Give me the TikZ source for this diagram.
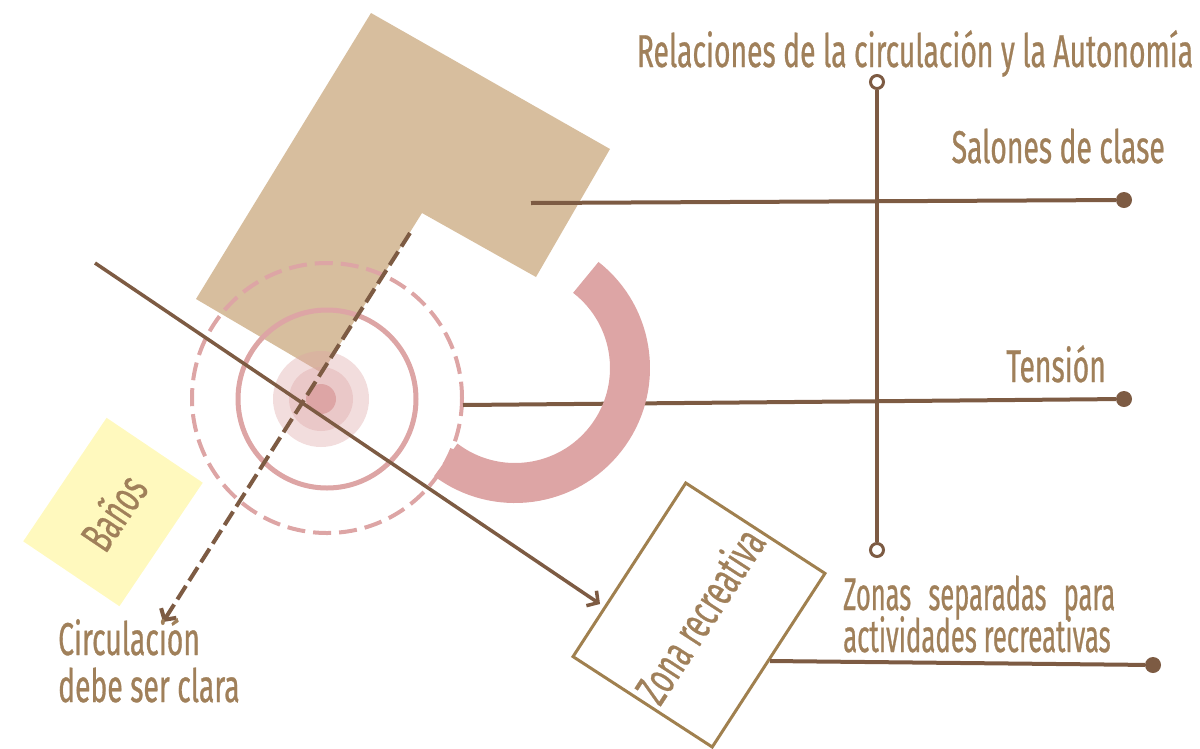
\documentclass[tikz,border=0pt]{standalone}
\usepackage{fontspec}
\usepackage{graphicx}
\setmainfont{Fira Sans}[FakeStretch=0.615,FakeBold=0.6]
\usetikzlibrary{arrows.meta}
\definecolor{tanfill}{HTML}{D7BE9E}
\definecolor{pinkc}{HTML}{DDA5A5}
\definecolor{linec}{HTML}{7D5B43}
\definecolor{textc}{HTML}{A0805A}
\definecolor{boxc}{HTML}{A0804F}
\definecolor{yellowc}{HTML}{FFF9BE}
\newcommand{\narrowword}[1]{\scalebox{0.9}[1]{#1}}
\begin{document}
\begin{tikzpicture}[x=1pt,y=-1pt,
  lbl/.style={text=textc, font=\fontsize{46}{50}\selectfont, inner sep=0pt},
  conn/.style={draw=linec, line width=4pt},
  dashconn/.style={draw=linec, line width=4pt, dash pattern=on 16pt off 6pt},
  enddot/.style={circle, fill=linec, minimum size=16pt, inner sep=0pt},
  opendot/.style={circle, draw=linec, fill=white, line width=3pt, minimum size=13pt, inner sep=0pt},
  barb/.style={-{Straight Barb[length=8pt,width=18pt]}},
  blob/.style={fill=pinkc, opacity=0.38}
]
\useasboundingbox (0,0) rectangle (1200,748);

% tan L-shaped building
\fill[tanfill] (371,13) -- (610,149) -- (536,277) -- (422,213) -- (322,373) -- (196,299) -- cycle;

% yellow box
\node[lbl, fill=yellowc, rotate=56, minimum width=149pt, minimum height=116pt] (banos) at (113,512) {Baños};

% focal blobs
\fill[blob] (321,399) circle[radius=48];
\fill[blob] (321,399) circle[radius=32];
\fill[pinkc] (321,399) circle[radius=15];

% rings
\draw[pinkc, line width=5pt] (327,399) circle[radius=89];
\draw[pinkc, line width=4pt, dash pattern=on 18pt off 8pt] (327,398) circle[radius=135];

% vertical axis
\node[opendot] (vtop) at (877,82) {};
\node[opendot] (vbot) at (877,550) {};
\draw[conn] (vtop) -- (vbot);

% end dots
\node[enddot] (saldot) at (1124,200) {};
\node[enddot] (tendot) at (1124,399) {};
\node[enddot] (zondot) at (1153,665) {};

% connector start points
\coordinate (salstart) at (531,203);
\coordinate (tenstart) at (463,405);
\coordinate (zonstart) at (770,661);
\coordinate (diagstart) at (95,263);
\coordinate (zonatip) at (600,604);
\coordinate (dashstart) at (410,233);
\coordinate (circtip) at (163,622);

\draw[conn] (salstart) -- (saldot);
\draw[conn] (tenstart) -- (tendot);

% thick pink arc
\draw[pinkc, line width=40pt] (515,368) ++(-52:115) arc[start angle=-52, end angle=127, radius=115];

% zona recreativa box
\node[lbl, draw=boxc, fill=white, line width=3pt, rotate=57, minimum width=207pt, minimum height=166pt] (zona) at (699,615) {Zona recreativa};
\draw[conn] (zonstart) -- (zondot);

% circulation lines
\draw[conn, line width=3.5pt, barb] (diagstart) -- (zonatip);
\draw[dashconn, barb] (dashstart) -- (circtip);

% labels
\node[lbl, anchor=base] (rel) at (915,67) {Relaciones de la circulación y la Autonomía};
\node[lbl, anchor=base east] (sal) at (1165,163) {Salones de clase};
\node[lbl, anchor=base east] (ten) at (1106,382) {Tensión};
\node[lbl, anchor=base west] (zon1) at (843,610) {\makebox[272pt][s]{\narrowword{Zonas} \narrowword{separadas} \narrowword{para}}};
\node[lbl, anchor=base west] (zon2) at (843,652) {\scalebox{0.91}[1]{actividades recreativas}};
\node[lbl, anchor=base west] (cir1) at (58,655) {Circulación};
\node[lbl, anchor=base west] (cir2) at (58,702) {debe ser clara};
\end{tikzpicture}
\end{document}
